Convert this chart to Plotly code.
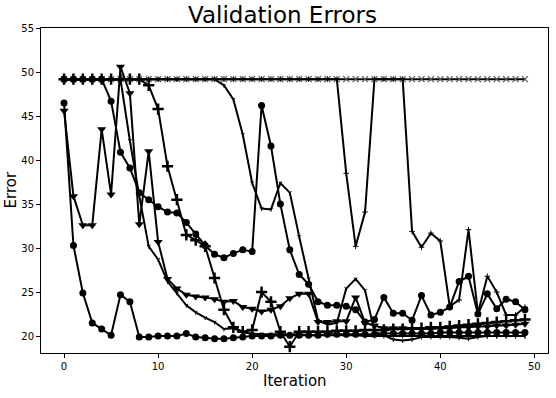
import plotly.graph_objects as go

iterations = list(range(50))

# series values
err_x = [49.3, 49.3, 49.3, 49.3, 49.3, 49.3, 49.3, 49.3, 49.3, 49.3,
         49.3, 49.3, 49.3, 49.3, 49.3, 49.3, 49.3, 49.3, 49.3, 49.3,
         49.3, 49.3, 49.3, 49.3, 49.3, 49.3, 49.3, 49.3, 49.3, 49.3,
         49.3, 49.3, 49.3, 49.3, 49.3, 49.3, 49.3, 49.3, 49.3, 49.3,
         49.3, 49.3, 49.3, 49.3, 49.3, 49.3, 49.3, 49.3, 49.3, 49.3]

err_thin_a = [49.3, 49.3, 49.3, 49.3, 49.3, 49.3, 49.3, 42.3, 36.0, 30.3,
              28.8, 26.3, 25.0, 23.6, 22.8, 22.2, 21.7, 20.9, 21.0, 20.5,
              20.4, 20.3, 20.3, 20.3, 20.3, 20.3, 20.2, 20.2, 20.2, 20.2,
              20.2, 20.2, 20.1, 20.1, 20.1, 20.1, 20.1, 20.1, 20.1, 20.1,
              20.1, 20.1, 20.1, 20.1, 20.1, 20.1, 20.1, 20.1, 20.1, 20.1]

err_thin_b = [49.3, 49.3, 49.3, 49.3, 49.3, 49.3, 49.3, 49.3, 49.3, 49.3,
              49.3, 49.3, 49.3, 49.3, 49.3, 49.3, 49.3, 48.6, 47.0, 43.0,
              37.5, 34.6, 34.5, 37.5, 36.4, 31.4, 26.6, 21.9, 21.4, 21.6,
              25.5, 26.6, 25.3, 20.6, 20.2, 19.7, 19.6, 19.7, 20.0, 20.0,
              20.0, 20.0, 19.9, 19.8, 20.0, 20.1, 20.1, 20.1, 20.1, 20.1]

err_thin_c = [49.3, 49.3, 49.3, 49.3, 49.3, 49.3, 49.3, 49.3, 49.3, 49.3,
              49.3, 49.3, 49.3, 49.3, 49.3, 49.3, 49.3, 49.3, 49.3, 49.3,
              49.3, 49.3, 49.3, 49.3, 49.3, 49.3, 49.3, 49.3, 49.3, 49.3,
              38.6, 30.3, 34.2, 49.3, 49.3, 49.3, 49.3, 32.0, 30.2, 31.8,
              30.9, 23.5, 24.2, 32.2, 22.7, 26.9, 25.1, 22.5, 22.5, 23.4]

err_circle_low = [46.6, 30.4, 25.0, 21.6, 20.9, 20.2, 24.8, 24.0, 20.0, 20.0,
                  20.1, 20.1, 20.1, 20.4, 20.0, 19.9, 19.8, 19.8, 19.9, 20.0,
                  20.1, 20.1, 20.1, 20.2, 20.2, 20.2, 20.2, 20.2, 20.3, 20.3,
                  20.3, 20.3, 20.3, 20.3, 20.4, 20.4, 20.4, 20.4, 20.4, 20.4,
                  20.5, 20.5, 20.5, 20.5, 20.5, 20.5, 20.5, 20.5, 20.5, 20.5]

err_circle_high = [49.3, 49.3, 49.3, 49.3, 49.3, 46.8, 41.0, 39.2, 36.4, 35.6,
                   34.8, 34.2, 34.1, 33.0, 31.7, 30.4, 29.4, 29.0, 29.5, 29.9,
                   29.7, 46.3, 41.7, 35.1, 29.9, 27.1, 26.0, 24.0, 23.6, 23.6,
                   23.5, 23.1, 21.7, 22.0, 24.5, 22.7, 22.7, 21.9, 24.7, 22.5,
                   22.8, 23.4, 26.3, 26.9, 22.6, 24.9, 23.2, 24.3, 24.0, 23.1]

err_plus = [49.3, 49.3, 49.3, 49.3, 49.3, 49.3, 49.3, 49.3, 49.3, 48.6,
            45.9, 39.4, 35.6, 31.6, 31.0, 30.3, 26.7, 23.1, 21.1, 20.6,
            20.8, 25.1, 24.0, 20.6, 18.9, 20.6, 20.6, 20.6, 20.6, 20.7,
            20.7, 20.7, 20.8, 20.8, 20.8, 20.9, 20.9, 21.0, 21.0, 21.1,
            21.1, 21.2, 21.3, 21.4, 21.5, 21.6, 21.7, 21.8, 21.9, 22.0]

err_tri = [45.7, 36.0, 32.7, 32.7, 43.6, 36.2, 50.7, 47.7, 32.8, 41.1,
           30.8, 26.6, 25.5, 24.8, 24.6, 24.5, 24.3, 24.0, 24.1, 23.4,
           23.2, 22.9, 23.1, 23.5, 24.4, 24.9, 24.9, 21.7, 21.7, 21.8,
           21.8, 24.5, 21.6, 21.3, 21.0, 21.0, 21.0, 20.9, 20.9, 20.9,
           21.0, 21.0, 21.1, 21.1, 21.2, 21.2, 21.3, 21.3, 21.4, 21.5]

x_ticks = [0, 10, 20, 30, 40, 50]
y_ticks = [20, 25, 30, 35, 40, 45, 50, 55]

fig = go.Figure()

def add(y, symbol, size, mlw=0, lw=2, mcolor="black"):
    fig.add_trace(go.Scatter(
        x=iterations, y=y, mode="lines+markers",
        line=dict(color="black", width=lw),
        marker=dict(symbol=symbol, size=size, color=mcolor,
                    line=dict(color=mcolor, width=mlw)),
        showlegend=False, hoverinfo="skip"))

add(err_x, "x-thin", 6, mlw=1.2, lw=2, mcolor="#555555")
add(err_thin_a, "y-down", 3, mlw=1, lw=2)
add(err_thin_b, "y-down", 3, mlw=1, lw=2)
add(err_thin_c, "cross-thin", 4, mlw=1, lw=2)
add(err_circle_low, "circle", 7)
add(err_circle_high, "circle", 7)
add(err_plus, "cross-thin", 8, mlw=2.5)
add(err_tri, "triangle-down", 8)

font_family = "DejaVu Sans"
fig.update_layout(
    width=556, height=398,
    margin=dict(l=41, r=8, t=28, b=45),
    paper_bgcolor="white", plot_bgcolor="white",
    font=dict(family=font_family, color="black", size=10),
    title=dict(text="Validation Errors", x=0.508, xanchor="center",
               y=1 - 15 / 398, yref="container", yanchor="middle",
               font=dict(size=23, family=font_family, color="black")),
    xaxis=dict(range=[-2.45, 51.45], tickvals=x_ticks, ticks="outside",
               ticklen=4, tickcolor="black", showline=True, mirror=True,
               linecolor="black", linewidth=1, showgrid=False, zeroline=False,
               tickfont=dict(size=10), automargin=False),
    yaxis=dict(range=[18.18, 55.11], tickvals=y_ticks, ticks="outside",
               ticklen=4, tickcolor="black", showline=True, mirror=True,
               linecolor="black", linewidth=1, showgrid=False, zeroline=False,
               tickfont=dict(size=10), automargin=False),
    annotations=[
        dict(text="Iteration", xref="paper", yref="paper", x=0.5,
             y=-(381 - 353) / 325, xanchor="center", yanchor="middle",
             showarrow=False, font=dict(size=15)),
        dict(text="Error", xref="paper", yref="paper",
             x=-(41 - 10) / 507, y=0.5, xanchor="center", yanchor="middle",
             textangle=-90, showarrow=False, font=dict(size=15)),
    ],
)

fig.write_html("out.html",
               config={"displayModeBar": False},
               post_script="document.body.style.margin='0';"
                           "document.body.style.overflow='hidden';")
